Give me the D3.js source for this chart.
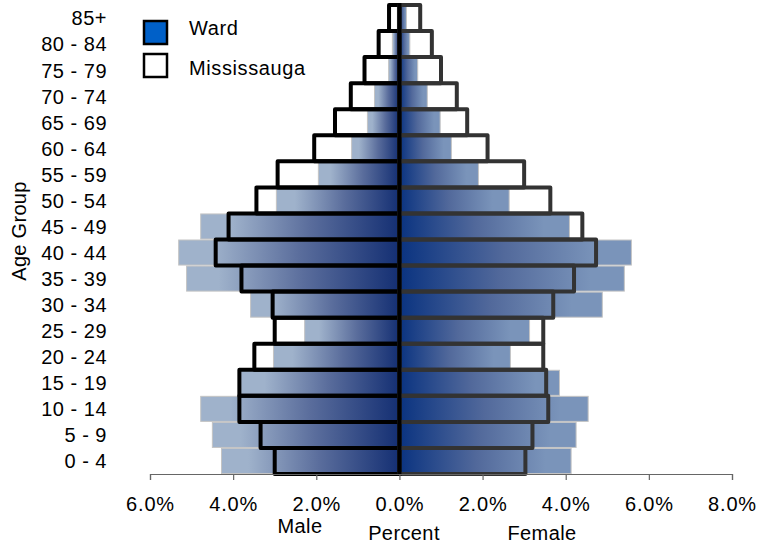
<!DOCTYPE html>
<html>
<head>
<meta charset="utf-8">
<script src="https://cdn.jsdelivr.net/npm/d3@7"></script>
<style>
  body { margin: 0; background: #fff; }
  svg { display: block; font-family: Arial, "Liberation Sans", sans-serif; }
</style>
</head>
<body>
<svg id="chart" width="773" height="545"></svg>
<script>
const ageGroups = ["0 - 4","5 - 9","10 - 14","15 - 19","20 - 24","25 - 29","30 - 34","35 - 39","40 - 44","45 - 49","50 - 54","55 - 59","60 - 64","65 - 69","70 - 74","75 - 79","80 - 84","85+"];
const wardMale     = [4.28, 4.50, 4.78, 3.82, 3.03, 2.28, 3.58, 5.12, 5.31, 4.78, 2.96, 1.95, 1.15, 0.77, 0.60, 0.26, 0.17, 0.05];
const wardFemale   = [4.13, 4.25, 4.54, 3.85, 2.67, 3.13, 4.88, 5.41, 5.58, 4.09, 2.64, 1.90, 1.25, 0.98, 0.67, 0.44, 0.25, 0.17];
const saugaMale    = [3.00, 3.34, 3.85, 3.85, 3.49, 3.00, 3.05, 3.80, 4.42, 4.11, 3.44, 2.93, 2.05, 1.55, 1.17, 0.84, 0.50, 0.25];
const saugaFemale  = [3.03, 3.20, 3.58, 3.53, 3.46, 3.46, 3.70, 4.20, 4.73, 4.40, 3.63, 3.00, 2.12, 1.63, 1.38, 1.00, 0.78, 0.50];
const xTicks = [-6, -4, -2, 0, 2, 4, 6, 8];
const legendLabels = ["Ward", "Mississauga"];

const svg = d3.select("#chart");
const x = d3.scaleLinear().domain([-6, 8]).range([150, 732]);
const y = d3.scaleBand().domain(ageGroups).range([474, 5]).padding(0);
const bw = y.bandwidth();

const defs = svg.append("defs");
function grad(id, x1, x2, stops) {
  const g = defs.append("linearGradient").attr("id", id)
    .attr("x1", x1).attr("x2", x2).attr("y1", 0).attr("y2", 0);
  stops.forEach(s => g.append("stop").attr("offset", s[0]).attr("stop-color", s[1]));
}
grad("gMale", 1, 0, [[0, "#142f73"], [0.45, "#5a6d9c"], [0.85, "#9fb2cb"], [1, "#9fb2cb"]]);
grad("gFemale", 0, 1, [[0, "#0a3380"], [0.45, "#52699b"], [0.85, "#7a94ba"], [1, "#7a94ba"]]);

const rows = ageGroups.map((a, i) => ({a, wm: wardMale[i], wf: wardFemale[i], sm: saugaMale[i], sf: saugaFemale[i]}));

// Mississauga white fills
const gBack = svg.append("g");
gBack.selectAll(".bm").data(rows).join("rect")
  .attr("x", d => x(-d.sm)).attr("y", d => y(d.a)).attr("width", d => x(0) - x(-d.sm)).attr("height", bw)
  .attr("fill", "#fff");
gBack.selectAll(".bf").data(rows).join("rect")
  .attr("x", x(0)).attr("y", d => y(d.a)).attr("width", d => x(d.sf) - x(0)).attr("height", bw)
  .attr("fill", "#fff");

// Ward bars
const gWard = svg.append("g");
gWard.selectAll(".wm").data(rows).join("rect")
  .attr("x", d => x(-d.wm)).attr("y", d => y(d.a) + 0.5).attr("width", d => x(0) - x(-d.wm)).attr("height", bw - 1)
  .attr("fill", "url(#gMale)").attr("stroke", "#c4c4c4").attr("stroke-width", 1);
gWard.selectAll(".wf").data(rows).join("rect")
  .attr("x", x(0)).attr("y", d => y(d.a) + 0.5).attr("width", d => x(d.wf) - x(0)).attr("height", bw - 1)
  .attr("fill", "url(#gFemale)").attr("stroke", "#c4c4c4").attr("stroke-width", 1);

// Mississauga outlines
const gOut = svg.append("g").attr("fill", "none").attr("stroke-width", 4).attr("stroke-linejoin", "round");
gOut.selectAll(".om").data(rows).join("rect")
  .attr("x", d => x(-d.sm)).attr("y", d => y(d.a)).attr("width", d => x(0) - x(-d.sm)).attr("height", bw)
  .attr("stroke", "#000");
gOut.selectAll(".of").data(rows).join("rect")
  .attr("x", x(0)).attr("y", d => y(d.a)).attr("width", d => x(d.sf) - x(0)).attr("height", bw)
  .attr("stroke", "#333");

// center line
svg.append("line").attr("x1", x(0)).attr("x2", x(0)).attr("y1", 3).attr("y2", 476)
  .attr("stroke", "#000").attr("stroke-width", 4);

// x axis
const xAxis = d3.axisBottom(x).tickValues(xTicks).tickSize(6).tickSizeOuter(6)
  .tickFormat(d => Math.abs(d).toFixed(1) + "%");
const gx = svg.append("g").attr("transform", "translate(0,474)").call(xAxis);
gx.select(".domain").attr("stroke", "#666").attr("stroke-width", 1.2);
gx.selectAll(".tick line").attr("stroke", "#666").attr("stroke-width", 1.2);
gx.selectAll(".tick text").attr("y", 37).attr("dy", 0)
  .attr("font-size", 20).attr("letter-spacing", "0.8px").attr("fill", "#000")
  .attr("font-family", "Arial, 'Liberation Sans', sans-serif");

// y labels
const yAxis = d3.axisLeft(y).tickSize(0).tickPadding(0);
const gy = svg.append("g").attr("transform", "translate(107,0)").call(yAxis);
gy.select(".domain").remove();
gy.selectAll(".tick text").attr("x", 0).attr("dy", "0.37em")
  .attr("font-size", 20).attr("letter-spacing", "0.5px").attr("fill", "#000")
  .attr("font-family", "Arial, 'Liberation Sans', sans-serif");

// titles
svg.append("text").attr("transform", "translate(26,231) rotate(-90)").attr("text-anchor", "middle")
  .attr("font-size", 20).attr("letter-spacing", "0.3px").text("Age Group");
svg.append("text").attr("x", 300).attr("y", 533).attr("text-anchor", "middle")
  .attr("font-size", 20).attr("letter-spacing", "0.4px").text("Male");
svg.append("text").attr("x", 404).attr("y", 540).attr("text-anchor", "middle")
  .attr("font-size", 20).attr("letter-spacing", "0.4px").text("Percent");
svg.append("text").attr("x", 542).attr("y", 540).attr("text-anchor", "middle")
  .attr("font-size", 20).attr("letter-spacing", "0.4px").text("Female");

// legend
const lg = svg.append("g");
const legendFill = ["#0060c8", "#fff"];
legendLabels.forEach((lab, i) => {
  lg.append("rect").attr("x", 144).attr("y", 21 + i * 33).attr("width", 23).attr("height", 23)
    .attr("fill", legendFill[i]).attr("stroke", "#000").attr("stroke-width", 2.5);
  lg.append("text").attr("x", 189).attr("y", 35 + i * 40).attr("font-size", 20)
    .attr("letter-spacing", "0.6px").text(lab);
});
</script>
</body>
</html>
